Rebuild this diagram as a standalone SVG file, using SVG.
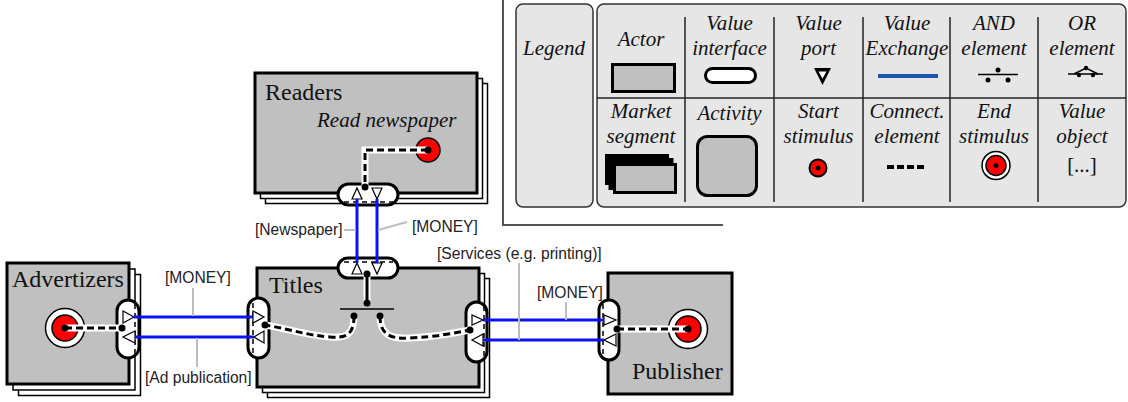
<svg xmlns="http://www.w3.org/2000/svg" width="1128" height="402" viewBox="0 0 1128 402">
<defs>
<style>
.serif{font-family:"Liberation Serif","Times New Roman",serif;fill:#111}
.it{font-style:italic;font-size:21px;text-anchor:middle}
.name{font-size:24px}
.lbl{font-family:"Liberation Sans",Arial,sans-serif;font-size:15.6px;fill:#222}
.shadow{fill:#fff;stroke:#000;stroke-width:1.5}
.actor{fill:#c0c0c0;stroke:#000;stroke-width:3}
.vi{fill:#fff;stroke:#000;stroke-width:3}
.vidash{stroke:#000;stroke-width:1.5;stroke-dasharray:5 4;fill:none}
.port{fill:#fff;stroke:#000;stroke-width:1.2}
.ve{stroke:#0a14f0;stroke-width:3;fill:none}
.halo{stroke:#fff;stroke-width:7;fill:none}
.dash{stroke:#000;stroke-width:3;stroke-dasharray:7 4;fill:none}
.solid{stroke:#000;stroke-width:3;fill:none}
.leader{stroke:#bdbdbd;stroke-width:2;fill:none}
.dot{fill:#000}
.red{fill:#f00;stroke:#000;stroke-width:1.5}
.ring{fill:#fff;stroke:#000;stroke-width:1.5}
.legbox{fill:#e6e6e6;stroke:#333;stroke-width:1.5}
.div{stroke:#222;stroke-width:1.5}
</style>
</defs>
<rect width="1128" height="402" fill="#fff"/>

<g id="legend">
  <path d="M503,0 V225 H723" fill="none" stroke="#555" stroke-width="2"/>
  <rect class="legbox" x="516" y="4" width="77" height="203" rx="7"/>
  <text class="serif it" x="554" y="55">Legend</text>
  <rect class="legbox" x="597" y="4" width="529" height="203" rx="7"/>
  <line class="div" x1="685" y1="17" x2="685" y2="202"/>
  <line class="div" x1="774" y1="17" x2="774" y2="202"/>
  <line class="div" x1="863" y1="17" x2="863" y2="202"/>
  <line class="div" x1="950" y1="17" x2="950" y2="202"/>
  <line class="div" x1="1038" y1="17" x2="1038" y2="202"/>
  <line class="div" x1="597" y1="98" x2="1126" y2="98"/>
  <!-- row 1 -->
  <text class="serif it" x="641" y="46">Actor</text>
  <rect class="actor" x="612.5" y="64.5" width="62" height="27"/>
  <text class="serif it" x="729.5" y="30">Value</text>
  <text class="serif it" x="729.5" y="55">interface</text>
  <rect class="vi" x="705.5" y="68.5" width="50" height="14" rx="7"/>
  <text class="serif it" x="818.5" y="30">Value</text>
  <text class="serif it" x="818.5" y="55">port</text>
  <polygon points="814,68 831,68 822.5,85" fill="#000"/>
  <polygon points="818.5,71.5 826.5,71.5 822.5,78.5" fill="#fff"/>
  <text class="serif it" x="907" y="30">Value</text>
  <text class="serif it" x="907" y="55">Exchange</text>
  <line x1="878" y1="76" x2="938" y2="76" stroke="#1f57a8" stroke-width="4"/>
  <text class="serif it" x="994" y="30">AND</text>
  <text class="serif it" x="994" y="55">element</text>
  <line x1="978" y1="74.5" x2="1018" y2="74.5" stroke="#000" stroke-width="1.5"/>
  <circle class="dot" cx="998" cy="70" r="2.5"/>
  <circle class="dot" cx="988" cy="80" r="2.5"/>
  <circle class="dot" cx="1008" cy="80" r="2.5"/>
  <text class="serif it" x="1082" y="30">OR</text>
  <text class="serif it" x="1082" y="55">element</text>
  <line x1="1068" y1="74" x2="1103" y2="74" stroke="#000" stroke-width="1.5"/>
  <polyline points="1074,74 1086,68 1098,74" fill="none" stroke="#000" stroke-width="1.5"/>
  <circle class="dot" cx="1086" cy="68" r="2.2"/>
  <circle class="dot" cx="1079" cy="75" r="2.2"/>
  <circle class="dot" cx="1093" cy="75" r="2.2"/>
  <!-- row 2 -->
  <text class="serif it" x="641" y="118">Market</text>
  <text class="serif it" x="641" y="143">segment</text>
  <rect x="606.5" y="155.5" width="61" height="28" fill="#000" stroke="#000" stroke-width="3"/>
  <rect x="610" y="159.5" width="62" height="29" fill="#000" stroke="#000" stroke-width="3"/>
  <rect class="actor" x="614.5" y="164.5" width="61" height="28"/>
  <text class="serif it" x="729.5" y="120">Activity</text>
  <rect class="actor" x="697.5" y="136.5" width="59" height="59" rx="10"/>
  <text class="serif it" x="818.5" y="118">Start</text>
  <text class="serif it" x="818.5" y="143">stimulus</text>
  <circle cx="818" cy="168" r="8.5" fill="#f00" stroke="#000" stroke-width="2"/>
  <circle class="dot" cx="818" cy="168" r="2.5"/>
  <text class="serif it" x="907" y="118">Connect.</text>
  <text class="serif it" x="907" y="143">element</text>
  <line x1="887" y1="167" x2="927" y2="167" stroke="#000" stroke-width="4" stroke-dasharray="7 3"/>
  <text class="serif it" x="994" y="118">End</text>
  <text class="serif it" x="994" y="143">stimulus</text>
  <circle class="ring" cx="996" cy="165.5" r="14"/>
  <circle cx="996" cy="165.5" r="10" fill="#f00" stroke="#000" stroke-width="1.5"/>
  <circle class="dot" cx="996" cy="165.5" r="2.5"/>
  <text class="serif it" x="1082" y="118">Value</text>
  <text class="serif it" x="1082" y="143">object</text>
  <text class="serif" x="1082" y="172" font-size="21" text-anchor="middle">[...]</text>
</g>

<g id="readers">
  <rect class="shadow" x="265.5" y="83.5" width="222" height="120"/>
  <rect class="shadow" x="260.5" y="78.5" width="222" height="120"/>
  <rect class="actor" x="255" y="73" width="222" height="120"/>
  <text class="serif name" x="265" y="100">Readers</text>
  <text class="serif" x="317" y="127" font-size="21" font-style="italic">Read newspaper</text>
  <circle class="red" cx="428" cy="150" r="12"/>
  <rect class="vi" x="338" y="184" width="60" height="21" rx="10.5"/>
  <line class="vidash" x1="344" y1="202" x2="393" y2="202"/>
  <polygon class="port" points="352,199 362,199 357,188"/>
  <polygon class="port" points="372,188 382,188 377,199"/>
</g>

<g id="titles">
  <rect class="shadow" x="267.5" y="278.5" width="222" height="119"/>
  <rect class="shadow" x="262.5" y="273.5" width="222" height="119"/>
  <rect class="actor" x="257" y="268" width="222" height="119"/>
  <text class="serif name" x="269" y="293">Titles</text>
  <line x1="340" y1="309" x2="394" y2="309" stroke="#000" stroke-width="1.5"/>
  <rect class="vi" x="338" y="258" width="60" height="20" rx="10"/>
  <line class="vidash" x1="344" y1="262" x2="393" y2="262"/>
  <polygon class="port" points="352,274 362,274 357,263"/>
  <polygon class="port" points="372,263 382,263 377,274"/>
  <rect class="vi" x="248" y="298" width="21" height="60" rx="10.5"/>
  <line class="vidash" x1="253" y1="303" x2="253" y2="354"/>
  <polygon class="port" points="253,311 253,323 264,317"/>
  <polygon class="port" points="264,331 264,343 254,337"/>
  <rect class="vi" x="466" y="302" width="21" height="60" rx="10.5"/>
  <line class="vidash" x1="484" y1="306" x2="484" y2="358"/>
  <polygon class="port" points="472,315 472,325 483,320"/>
  <polygon class="port" points="483,334 483,346 472,340"/>
</g>

<g id="advertizers">
  <rect class="shadow" x="18.5" y="274.5" width="122" height="121"/>
  <rect class="shadow" x="13" y="269" width="122" height="121"/>
  <rect class="actor" x="7" y="263" width="122" height="121"/>
  <text class="serif name" x="12" y="287">Advertizers</text>
  <circle class="ring" cx="65" cy="328" r="19.5"/>
  <circle class="red" cx="65" cy="328" r="13"/>
  <rect class="vi" x="117" y="300" width="22" height="58" rx="11"/>
  <line class="vidash" x1="135" y1="304" x2="135" y2="354"/>
  <polygon class="port" points="123,311 123,323 134,317"/>
  <polygon class="port" points="135,331 135,343 123,337"/>
</g>

<g id="publisher">
  <rect class="actor" x="608" y="273" width="124" height="121"/>
  <text class="serif name" x="632" y="379">Publisher</text>
  <circle class="ring" cx="688" cy="329" r="19.5"/>
  <circle class="red" cx="688" cy="329" r="13"/>
  <rect class="vi" x="599" y="300" width="20" height="60" rx="10"/>
  <line class="vidash" x1="603" y1="304" x2="603" y2="356"/>
  <polygon class="port" points="604,315 604,325 616,320"/>
  <polygon class="port" points="616,334 616,346 604,340"/>
</g>

<g id="connectors">
  <!-- value exchanges -->
  <line class="ve" x1="134" y1="317" x2="253" y2="317"/>
  <line class="ve" x1="135" y1="337" x2="254" y2="337"/>
  <line class="ve" x1="483" y1="320" x2="604" y2="320"/>
  <line class="ve" x1="483" y1="340" x2="604" y2="340"/>
  <line class="ve" x1="357" y1="199" x2="357" y2="263"/>
  <line class="ve" x1="377" y1="199" x2="377" y2="263"/>
  <!-- dependency paths -->
  <path class="halo" d="M428,150 H365 V187"/>
  <path class="dash" d="M428,150 H365 V187"/>
  <path class="halo" d="M65,328 H122"/>
  <path class="dash" d="M65,328 H122"/>
  <path class="halo" d="M617,329 H688"/>
  <path class="dash" d="M617,329 H688"/>
  <path class="halo" d="M367,274 V303"/>
  <path class="solid" d="M367,274 V303"/>
  <path class="halo" d="M354,316 C354,336 345,338 330,337 C305,335 285,328 265,325"/>
  <path class="dash" d="M354,316 C354,336 345,338 330,337 C305,335 285,328 265,325"/>
  <path class="halo" d="M380,316 C380,336 392,339 410,338 C435,337 455,333 470,330"/>
  <path class="dash" d="M380,316 C380,336 392,339 410,338 C435,337 455,333 470,330"/>
  <circle class="dot" cx="428" cy="150" r="3.5"/>
  <circle class="dot" cx="365" cy="187" r="3.5"/>
  <circle class="dot" cx="367" cy="274" r="3.5"/>
  <circle class="dot" cx="367" cy="303" r="3.5"/>
  <circle class="dot" cx="354" cy="316" r="3.5"/>
  <circle class="dot" cx="380" cy="316" r="3.5"/>
  <circle class="dot" cx="265" cy="325" r="3.5"/>
  <circle class="dot" cx="470" cy="330" r="3.5"/>
  <circle class="dot" cx="65" cy="328" r="3.5"/>
  <circle class="dot" cx="122" cy="328" r="3.5"/>
  <circle class="dot" cx="617" cy="329" r="3.5"/>
  <circle class="dot" cx="688" cy="329" r="3.5"/>
  <!-- labels -->
  <line class="leader" x1="193" y1="288" x2="193" y2="316"/>
  <text class="lbl" x="165" y="283">[MONEY]</text>
  <line class="leader" x1="197" y1="338" x2="197" y2="367"/>
  <text class="lbl" x="145" y="383">[Ad publication]</text>
  <line class="leader" x1="344" y1="230" x2="356" y2="230"/>
  <text class="lbl" x="255" y="235">[Newspaper]</text>
  <line class="leader" x1="407" y1="222" x2="378" y2="230"/>
  <text class="lbl" x="412" y="232">[MONEY]</text>
  <line class="leader" x1="519" y1="263" x2="519" y2="340"/>
  <text class="lbl" x="437" y="259">[Services (e.g. printing)]</text>
  <line class="leader" x1="566" y1="302" x2="566" y2="320"/>
  <text class="lbl" x="537" y="298">[MONEY]</text>
</g>
</svg>
